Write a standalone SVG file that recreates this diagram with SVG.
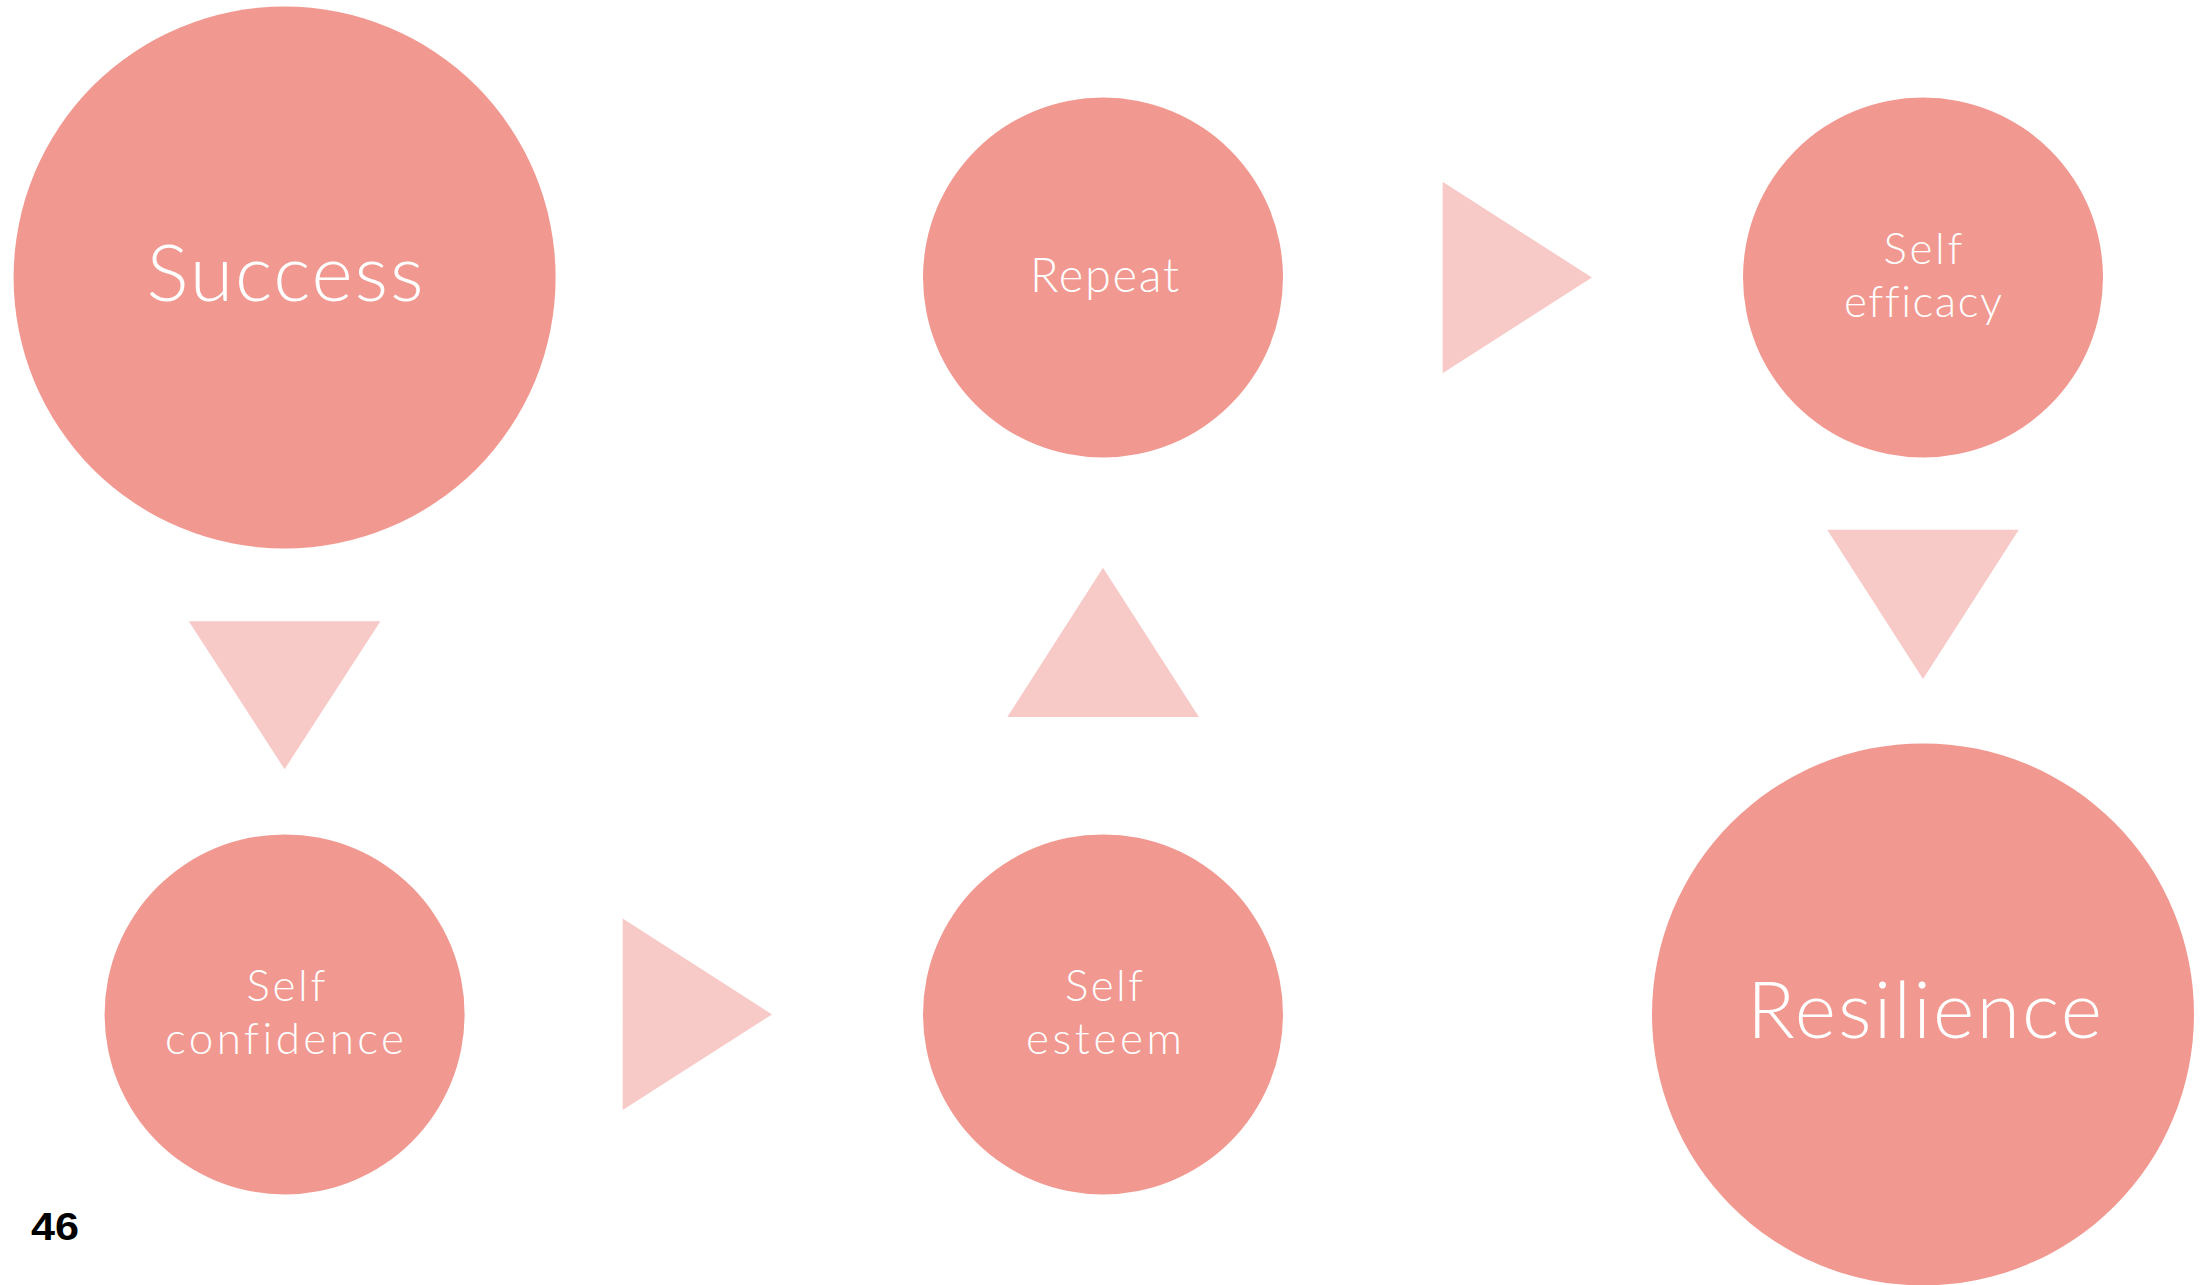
<svg xmlns="http://www.w3.org/2000/svg" width="2209" height="1285" viewBox="0 0 2209 1285">
<style>
.node{fill:#F19890}
.arrow{fill:#F7C9C7}
.lbl{font-family:Lato,"Open Sans","Liberation Sans",sans-serif;font-weight:300;fill:#FFFFFF;text-anchor:middle;font-variant-ligatures:none;font-feature-settings:"liga" 0}
.big{font-size:79px}
.mid{font-size:47px}
.two{font-size:44px}
.page{font-family:"Liberation Sans",Arial,sans-serif;font-weight:bold;font-size:38px;fill:#000000}
</style>
<rect width="2209" height="1285" fill="#FFFFFF"/>
<g id="connectors">
<polygon class="arrow" points="188.8,621.3 380.4,621.3 284.6,769.2"/>
<polygon class="arrow" points="622.7,918.5 622.7,1110.1 772,1014.4"/>
<polygon class="arrow" points="1103,567.7 1198.9,717.1 1007.3,717.1"/>
<polygon class="arrow" points="1442.6,181.7 1442.6,373.3 1591.9,277.5"/>
<polygon class="arrow" points="1827.2,529.7 2018.8,529.7 1923,679"/>
</g>
<g id="success">
<circle class="node" cx="284.6" cy="277.5" r="271"/>
<text class="lbl big" x="285" y="301" textLength="277" lengthAdjust="spacing">Success</text>
</g>
<g id="self-confidence">
<circle class="node" cx="284.6" cy="1014.4" r="180"/>
<text class="lbl two" x="286" y="1000.5" textLength="79" lengthAdjust="spacing">Self</text>
<text class="lbl two" x="284.5" y="1053.5" textLength="239" lengthAdjust="spacing">confidence</text>
</g>
<g id="self-esteem">
<circle class="node" cx="1103" cy="1014.4" r="180"/>
<text class="lbl two" x="1104" y="1000.5" textLength="78" lengthAdjust="spacing">Self</text>
<text class="lbl two" x="1104" y="1053.5" textLength="156" lengthAdjust="spacing">esteem</text>
</g>
<g id="repeat">
<circle class="node" cx="1103" cy="277.5" r="180"/>
<text class="lbl mid" x="1104.5" y="292" textLength="149" lengthAdjust="spacing">Repeat</text>
</g>
<g id="self-efficacy">
<circle class="node" cx="1923" cy="277.5" r="180"/>
<text class="lbl two" x="1923" y="263.5" textLength="79" lengthAdjust="spacing">Self</text>
<text class="lbl two" x="1923" y="316.5" textLength="158" lengthAdjust="spacing">efficacy</text>
</g>
<g id="resilience">
<circle class="node" cx="1923" cy="1014.4" r="271"/>
<text class="lbl big" x="1924.5" y="1038" textLength="355" lengthAdjust="spacing">Resilience</text>
</g>
<text class="page" x="31" y="1240" textLength="48" lengthAdjust="spacingAndGlyphs">46</text>
</svg>
